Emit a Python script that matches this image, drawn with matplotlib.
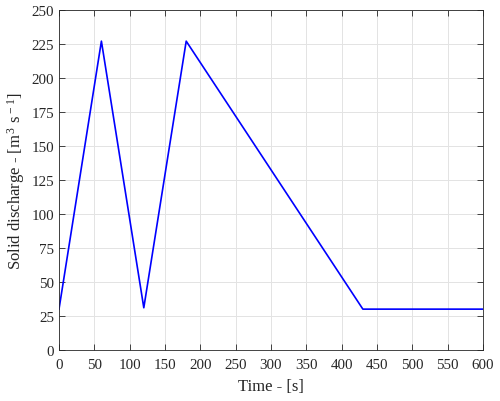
import numpy as np
import matplotlib
matplotlib.use("Agg")
from matplotlib import pyplot as plt

# solid discharge hydrograph
time = [0, 60, 120, 180, 430, 600]
qs = [30, 227, 31, 227, 30, 30]

plt.rcParams['font.family'] = ['Liberation Serif', 'DejaVu Serif']
plt.rcParams['mathtext.fontset'] = 'custom'
plt.rcParams['mathtext.rm'] = 'Liberation Serif'
plt.rcParams['mathtext.it'] = 'Liberation Serif:italic'

fig = plt.figure(figsize=(5, 4.02), dpi=100)
ax = fig.add_axes([0.118, 0.127, 0.848, 0.846])
ax.plot(time, qs, color='#0000ff', lw=1.2)

ax.set_xlim(0, 600)
ax.set_ylim(0, 250)
ax.set_xticks(np.arange(0, 601, 50))
ax.set_yticks(np.arange(0, 251, 25))
ax.grid(True, color='#e3e3e3', lw=0.7)
ax.set_axisbelow(True)
ax.tick_params(direction='in', top=True, right=True, labelsize=10.8, length=4,
               color='#262626', labelcolor='#262626', width=0.6)
ax.tick_params(axis='x', pad=6)
for s in ax.spines.values():
    s.set_color('#262626')
    s.set_linewidth(0.6)

ax.set_xlabel('Time - [s]', fontsize=12, color='#262626', labelpad=5)
ax.set_ylabel('Solid discharge - [m$^{\\,3}$ s$^{\\,-1}$]', fontsize=12, color='#262626', labelpad=3)

fig.savefig('out.png', dpi=100)
